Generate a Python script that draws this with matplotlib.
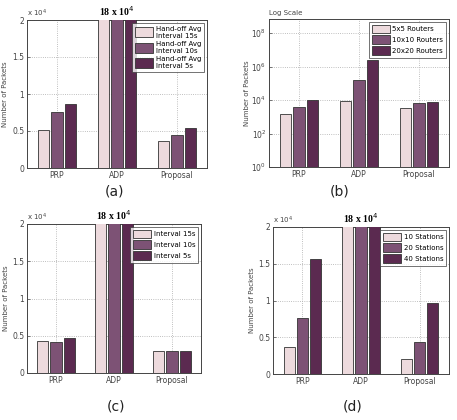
import numpy as np
import matplotlib.pyplot as plt
from matplotlib.ticker import FuncFormatter, NullLocator

# data (packets, units of 1e4 for linear panels)
groups = ['PRP', 'ADP', 'Proposal']

a_labels = ['Hand-off Avg\nInterval 15s', 'Hand-off Avg\nInterval 10s', 'Hand-off Avg\nInterval 5s']
a_vals = [[0.52, 18, 0.36],
          [0.76, 18, 0.45],
          [0.87, 18, 0.54]]

b_labels = ['5x5 Routers', '10x10 Routers', '20x20 Routers']
b_vals = [[1450, 8700, 3500],
          [3800, 150000, 6600],
          [10000, 2500000, 8000]]

c_labels = ['Interval 15s', 'Interval 10s', 'Interval 5s']
c_vals = [[0.435, 18, 0.29],
          [0.42, 18, 0.30],
          [0.47, 18, 0.29]]

d_labels = ['10 Stations', '20 Stations', '40 Stations']
d_vals = [[0.37, 18, 0.20],
          [0.76, 18, 0.44],
          [1.57, 18, 0.97]]

colors = ['#eddadd', '#7d5275', '#5b2a50']

W, H = 457, 420
fig = plt.figure(figsize=(W / 100, H / 100), dpi=100)


def px_axes(left, top, right, bottom):
    return fig.add_axes([left / W, 1 - bottom / H, (right - left) / W, (bottom - top) / H])


def bars(ax, vals, labels, log=False, hh=1.5):
    x = np.arange(1, len(groups) + 1)
    for i, v in enumerate(vals):
        ax.bar(x + (i - 1) * 0.225, v, width=0.19, color=colors[i], edgecolor='#333333',
               linewidth=0.6, label=labels[i], zorder=3,
               bottom=1 if log else 0)
    ax.set_xlim(0.5, 3.5)
    ax.set_xticks(x)
    ax.set_xticklabels(groups)
    ax.tick_params(direction='in', labelsize=5.5, length=2, width=0.5, colors='#444444', pad=2)
    ax.grid(True, linestyle=':', color='#aaaaaa', linewidth=0.6, zorder=0)
    for s in ax.spines.values():
        s.set_linewidth(0.7)
        s.set_color('#444444')
    ax.set_ylabel('Number of Packets', fontsize=5, color='#444444')
    ax.yaxis.set_label_coords(-0.105, 0.5)
    leg = ax.legend(loc='upper right', fontsize=5, frameon=True, fancybox=False,
                    borderaxespad=0.4, handlelength=2.6, handleheight=hh,
                    labelspacing=0.35, handletextpad=0.4, borderpad=0.4)
    leg.get_frame().set_edgecolor('#333333')
    leg.get_frame().set_linewidth(0.6)


def linear(ax):
    ax.set_ylim(0, 2)
    ax.set_yticks([0, 0.5, 1, 1.5, 2])
    ax.yaxis.set_major_formatter(FuncFormatter(lambda v, p: f'{v:g}'))
    ax.text(0.0, 1.01, r'x 10$^4$', transform=ax.transAxes, fontsize=5, color='#444444',
            ha='left', va='bottom')
    ax.text(2, 2.03, r'18 x 10$^4$', fontsize=7, fontweight='bold', family='Liberation Serif',
            ha='center', va='bottom')


ax_a = px_axes(27, 20, 207, 168)
bars(ax_a, a_vals, a_labels, hh=1.9)
linear(ax_a)

ax_b = px_axes(269, 19, 449, 167)
ax_b.set_yscale('log')
bars(ax_b, b_vals, b_labels, log=True)
ax_b.set_ylim(1, 10 ** 8.85)
ax_b.set_yticks([1, 1e2, 1e4, 1e6, 1e8])
ax_b.yaxis.set_minor_locator(NullLocator())
ax_b.text(0.0, 1.02, 'Log Scale', transform=ax_b.transAxes, fontsize=5, color='#444444',
          ha='left', va='bottom')

ax_c = px_axes(27, 224, 201, 373)
bars(ax_c, c_vals, c_labels)
linear(ax_c)

ax_d = px_axes(273, 227, 449, 374)
bars(ax_d, d_vals, d_labels)
linear(ax_d)

for lab, x, y in [('(a)', 115, 192), ('(b)', 340, 192), ('(c)', 116, 407), ('(d)', 353, 407)]:
    fig.text(x / W, 1 - y / H, lab, fontsize=10, ha='center', va='center', color='#222222')

fig.savefig('out.png', dpi=100)
